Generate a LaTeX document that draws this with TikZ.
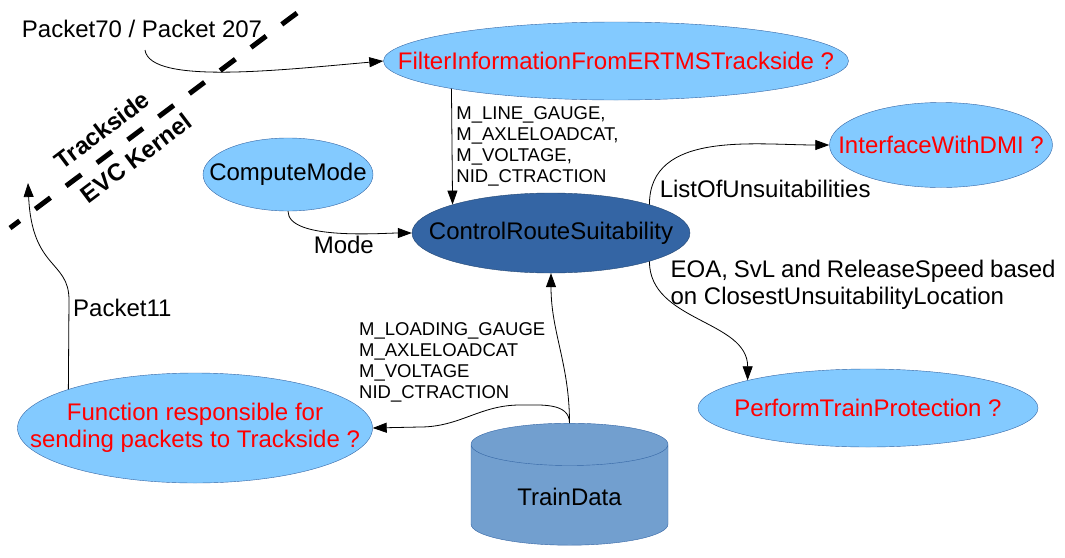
\documentclass[tikz,border=0pt]{standalone}
\usepackage{fontspec}
\setmainfont{Liberation Sans}
\usepackage{tikz}
\usetikzlibrary{shapes.geometric,arrows.meta}
\definecolor{lightblob}{HTML}{83CAFF}
\definecolor{blobline}{HTML}{3465A4}
\definecolor{darkblob}{HTML}{3465A4}
\definecolor{dbfill}{HTML}{729FCF}

\begin{document}
\begin{tikzpicture}[x=1pt, y=-1pt, >={Triangle[length=14pt,width=10pt]},
    big/.style={font=\fontsize{24}{27}\selectfont, inner sep=2pt},
    small/.style={font=\fontsize{18.5}{21}\selectfont, inner sep=2pt, align=left},
    blob/.style={ellipse, draw=blobline, fill=lightblob, inner sep=0pt},
    conn/.style={->, line width=0.8pt}]

\useasboundingbox (0,0) rectangle (1065,557);

% Grens
\coordinate (sidea) at (297,13);
\coordinate (sideb) at (10,228);
\draw[line width=5pt, dash pattern=on 19pt off 19.5pt] (sidea) -- (sideb);
\node[big, font=\fontsize{24}{27}\selectfont\bfseries, rotate=37, inner sep=0pt] (trackside) at (102,130) {Trackside};
\node[big, font=\fontsize{24}{27}\selectfont\bfseries, rotate=37, inner sep=0pt] (kernelside) at (136,158) {EVC Kernel};

% Blokken
\node[blob, minimum width=465, minimum height=78,
  label={[big, text=red]center:FilterInformationFromERTMSTrackside ?}] (filter) at (616,61) {};
\node[blob, minimum width=223, minimum height=85,
  label={[big, text=red]center:InterfaceWithDMI ?}] (dmi) at (941,145) {};
\node[blob, minimum width=170, minimum height=73,
  label={[big]center:ComputeMode}] (cmode) at (288,174.5) {};
\node[blob, fill=darkblob, draw=darkblob!70!black, minimum width=278, minimum height=80,
  label={[big]center:ControlRouteSuitability}] (crs) at (551,233) {};
\node[blob, minimum width=340, minimum height=78,
  label={[big, text=red]center:PerformTrainProtection ?}] (ptp) at (868,408) {};
\node[blob, minimum width=355, minimum height=110,
  label={[big, text=red, align=center]center:{Function responsible for\\sending packets to Trackside ?}}] (fn) at (195,428) {};
\node[cylinder, shape border rotate=90, aspect=0.39, draw=blobline, fill=dbfill,
  minimum width=197, minimum height=122, inner sep=0pt, big] (td) at (569.5,497) {TrainData};

% Losse teksten
\node[big] (p70) at (142,29) {Packet70 / Packet 207};
\node[big, anchor=west] (p11) at (71,308) {Packet11};
\node[small, anchor=west] (tdinfo) at (357,362) {M\_LOADING\_GAUGE\\M\_AXLELOADCAT\\M\_VOLTAGE\\NID\_CTRACTION};
\node[big, anchor=west, align=left] (eoa) at ([shift={(19,23)}]crs.south east)
  {\makebox[385pt][s]{EOA, SvL and ReleaseSpeed based}\\on ClosestUnsuitabilityLocation};
\coordinate (kernel) at (28,183);

% Pijlen
\draw[conn] ([shift={(3,10)}]p70.south) .. controls (150,85) and (280,70) .. (filter.west);
\draw[conn] (filter.south west) -- (crs.north west)
  node[small, midway, right, xshift=2pt] {M\_LINE\_GAUGE,\\M\_AXLELOADCAT,\\M\_VOLTAGE,\\NID\_CTRACTION};
\draw[conn] (cmode.south) to[out=-90, in=180, looseness=0.6] node[big, pos=0.53, below] {Mode} (crs.west);
\draw[conn] (crs.north east) to[out=90, in=180] node[big, pos=0.08, anchor=west, xshift=6pt] {ListOfUnsuitabilities} (dmi.west);
\draw[conn] (crs.south east) to[out=-90, in=90] (ptp.north west);
\draw[conn] (td.top) to[out=90, in=-90] (crs.south);
\draw[conn] (td.top) to[out=90, in=0] (520,405) to[out=180, in=0] (420,427) -- (fn.east);
\draw[conn] (fn.163) -- (69,300) .. controls (69,260) and (32,270) .. (kernel);

\end{tikzpicture}
\end{document}
